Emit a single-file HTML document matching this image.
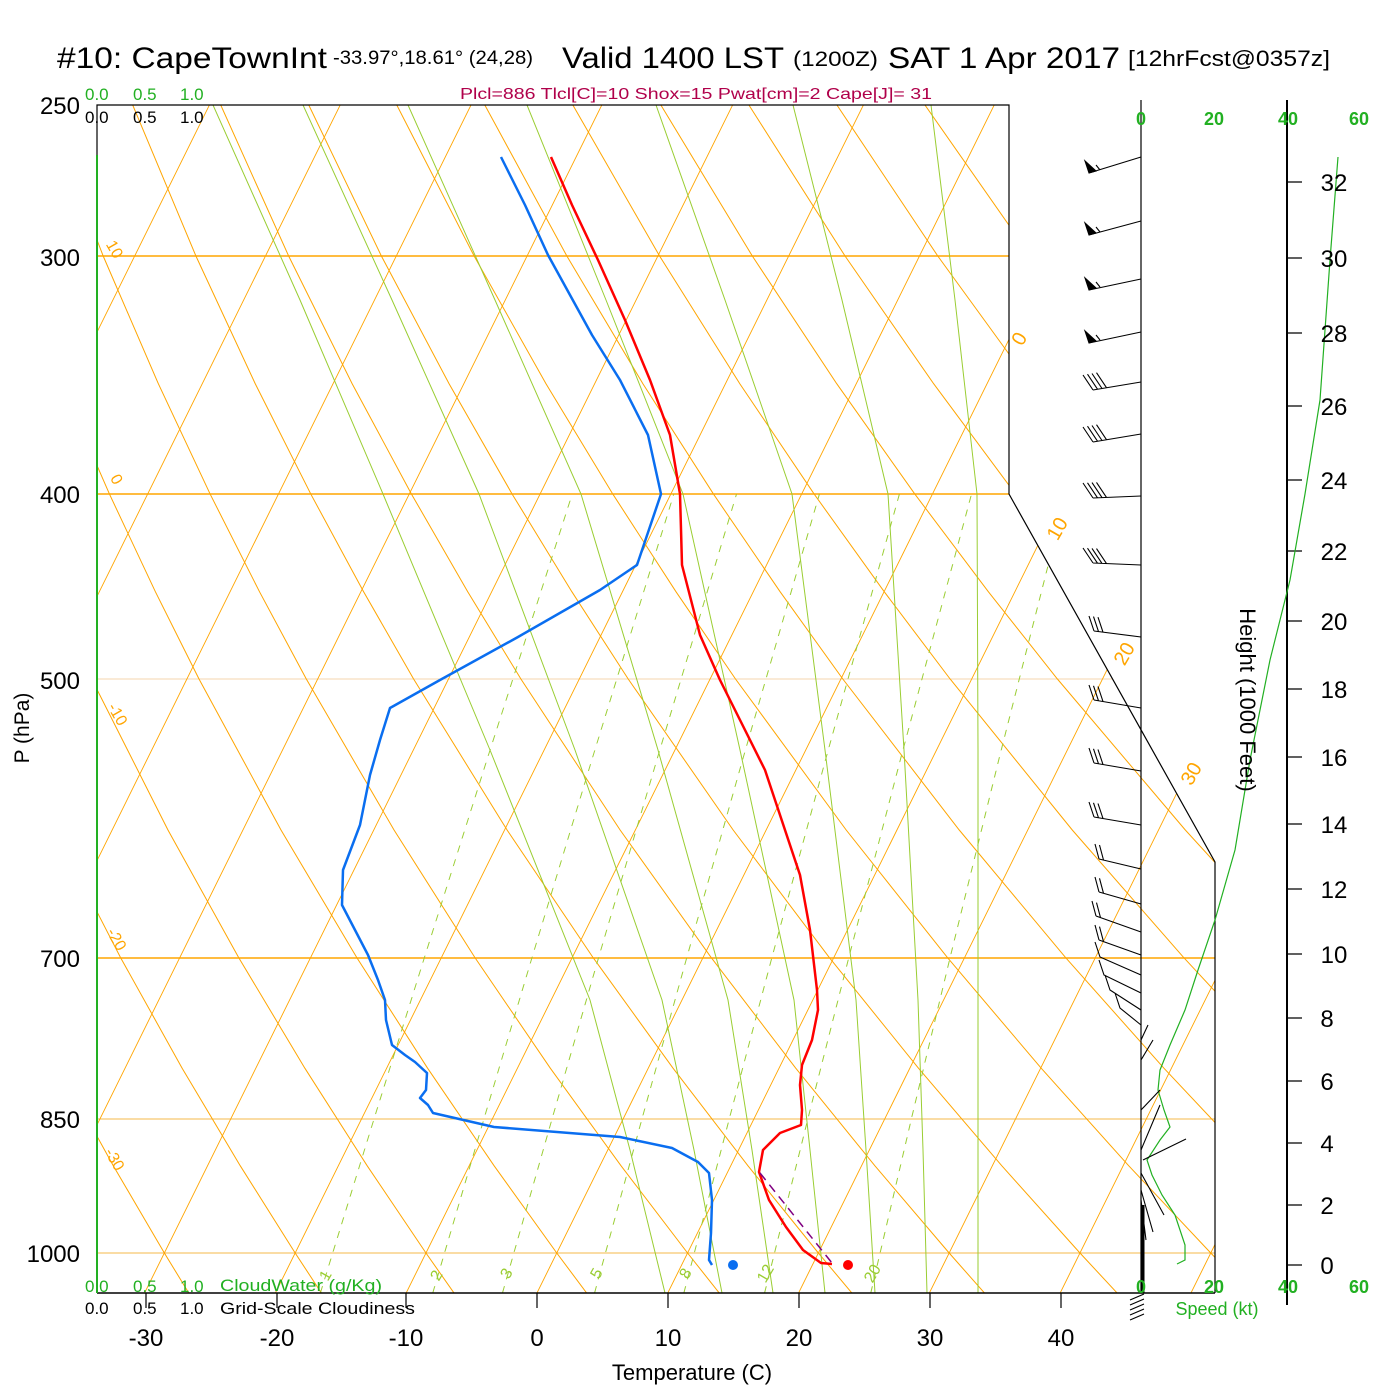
<!DOCTYPE html>
<html><head><meta charset="utf-8"><style>
html,body{margin:0;padding:0;background:#fff;}
svg{display:block;font-family:"Liberation Sans",Arial,sans-serif;}
</style></head><body>
<svg width="1400" height="1400" viewBox="0 0 1400 1400" xmlns="http://www.w3.org/2000/svg">
<defs><clipPath id="cp"><polygon points="97,105 1009,105 1009,494 1215,862 1215,1293 97,1293"/></clipPath></defs>
<rect width="1400" height="1400" fill="#fff"/>
<g clip-path="url(#cp)">
 <g stroke="#ffa500" fill="none">
  <line x1="97" y1="256" x2="1215" y2="256" stroke-width="1.5"/>
  <line x1="97" y1="494" x2="1215" y2="494" stroke-width="1.5"/>
  <line x1="97" y1="679" x2="1215" y2="679" stroke-width="0.8" stroke="#f0c890"/>
  <line x1="97" y1="958" x2="1215" y2="958" stroke-width="1.5"/>
  <line x1="97" y1="1119" x2="1215" y2="1119" stroke-width="0.9" stroke="#f5b84a"/>
  <line x1="97" y1="1253" x2="1215" y2="1253" stroke-width="0.9" stroke="#f5b84a"/>
 </g>
 <g transform="matrix(1 0 -0.495 1 640 0)" fill="none">
  <path stroke="#ffa500" stroke-width="1" d="M-509.4 105V1293M-378.6 105V1293M-247.8 105V1293M-117 105V1293M13.8 105V1293M144.6 105V1293M275.4 105V1293M406.2 105V1293M537 105V1293M667.8 105V1293M798.6 105V1293M929.4 105V1293M1060.2 105V1293M1191 105V1293"/>
  <g stroke="#ffa500" stroke-width="1">
   <path vector-effect="non-scaling-stroke" transform="translate(-3035.8,0) scale(3049.6,1)" d="M0.67298,105 L0.70896,256 0.74089,383.6 0.76969,494.2 0.79603,591.7 0.82034,679 0.86421,830 0.90311,957.6 0.93824,1068.2 0.97035,1165.7 1,1253 1.01404,1293.4"/>
   <path vector-effect="non-scaling-stroke" transform="translate(-3035.8,0) scale(3180.4,1)" d="M0.67298,105 L0.70896,256 0.74089,383.6 0.76969,494.2 0.79603,591.7 0.82034,679 0.86421,830 0.90311,957.6 0.93824,1068.2 0.97035,1165.7 1,1253 1.01404,1293.4"/>
   <path vector-effect="non-scaling-stroke" transform="translate(-3035.8,0) scale(3311.2,1)" d="M0.67298,105 L0.70896,256 0.74089,383.6 0.76969,494.2 0.79603,591.7 0.82034,679 0.86421,830 0.90311,957.6 0.93824,1068.2 0.97035,1165.7 1,1253 1.01404,1293.4"/>
   <path vector-effect="non-scaling-stroke" transform="translate(-3035.8,0) scale(3442.0,1)" d="M0.67298,105 L0.70896,256 0.74089,383.6 0.76969,494.2 0.79603,591.7 0.82034,679 0.86421,830 0.90311,957.6 0.93824,1068.2 0.97035,1165.7 1,1253 1.01404,1293.4"/>
   <path vector-effect="non-scaling-stroke" transform="translate(-3035.8,0) scale(3572.8,1)" d="M0.67298,105 L0.70896,256 0.74089,383.6 0.76969,494.2 0.79603,591.7 0.82034,679 0.86421,830 0.90311,957.6 0.93824,1068.2 0.97035,1165.7 1,1253 1.01404,1293.4"/>
   <path vector-effect="non-scaling-stroke" transform="translate(-3035.8,0) scale(3703.6,1)" d="M0.67298,105 L0.70896,256 0.74089,383.6 0.76969,494.2 0.79603,591.7 0.82034,679 0.86421,830 0.90311,957.6 0.93824,1068.2 0.97035,1165.7 1,1253 1.01404,1293.4"/>
   <path vector-effect="non-scaling-stroke" transform="translate(-3035.8,0) scale(3834.4,1)" d="M0.67298,105 L0.70896,256 0.74089,383.6 0.76969,494.2 0.79603,591.7 0.82034,679 0.86421,830 0.90311,957.6 0.93824,1068.2 0.97035,1165.7 1,1253 1.01404,1293.4"/>
   <path vector-effect="non-scaling-stroke" transform="translate(-3035.8,0) scale(3965.2,1)" d="M0.67298,105 L0.70896,256 0.74089,383.6 0.76969,494.2 0.79603,591.7 0.82034,679 0.86421,830 0.90311,957.6 0.93824,1068.2 0.97035,1165.7 1,1253 1.01404,1293.4"/>
   <path vector-effect="non-scaling-stroke" transform="translate(-3035.8,0) scale(4096.0,1)" d="M0.67298,105 L0.70896,256 0.74089,383.6 0.76969,494.2 0.79603,591.7 0.82034,679 0.86421,830 0.90311,957.6 0.93824,1068.2 0.97035,1165.7 1,1253 1.01404,1293.4"/>
   <path vector-effect="non-scaling-stroke" transform="translate(-3035.8,0) scale(4226.8,1)" d="M0.67298,105 L0.70896,256 0.74089,383.6 0.76969,494.2 0.79603,591.7 0.82034,679 0.86421,830 0.90311,957.6 0.93824,1068.2 0.97035,1165.7 1,1253 1.01404,1293.4"/>
   <path vector-effect="non-scaling-stroke" transform="translate(-3035.8,0) scale(4357.6,1)" d="M0.67298,105 L0.70896,256 0.74089,383.6 0.76969,494.2 0.79603,591.7 0.82034,679 0.86421,830 0.90311,957.6 0.93824,1068.2 0.97035,1165.7 1,1253 1.01404,1293.4"/>
   <path vector-effect="non-scaling-stroke" transform="translate(-3035.8,0) scale(4488.4,1)" d="M0.67298,105 L0.70896,256 0.74089,383.6 0.76969,494.2 0.79603,591.7 0.82034,679 0.86421,830 0.90311,957.6 0.93824,1068.2 0.97035,1165.7 1,1253 1.01404,1293.4"/>
   <path vector-effect="non-scaling-stroke" transform="translate(-3035.8,0) scale(4619.2,1)" d="M0.67298,105 L0.70896,256 0.74089,383.6 0.76969,494.2 0.79603,591.7 0.82034,679 0.86421,830 0.90311,957.6 0.93824,1068.2 0.97035,1165.7 1,1253 1.01404,1293.4"/>
   <path vector-effect="non-scaling-stroke" transform="translate(-3035.8,0) scale(4750.0,1)" d="M0.67298,105 L0.70896,256 0.74089,383.6 0.76969,494.2 0.79603,591.7 0.82034,679 0.86421,830 0.90311,957.6 0.93824,1068.2 0.97035,1165.7 1,1253 1.01404,1293.4"/>
   <path vector-effect="non-scaling-stroke" transform="translate(-3035.8,0) scale(4880.8,1)" d="M0.67298,105 L0.70896,256 0.74089,383.6 0.76969,494.2 0.79603,591.7 0.82034,679 0.86421,830 0.90311,957.6 0.93824,1068.2 0.97035,1165.7 1,1253 1.01404,1293.4"/>
   <path vector-effect="non-scaling-stroke" transform="translate(-3035.8,0) scale(5011.6,1)" d="M0.67298,105 L0.70896,256 0.74089,383.6 0.76969,494.2 0.79603,591.7 0.82034,679 0.86421,830 0.90311,957.6 0.93824,1068.2 0.97035,1165.7 1,1253 1.01404,1293.4"/>
   <path vector-effect="non-scaling-stroke" transform="translate(-3035.8,0) scale(5142.4,1)" d="M0.67298,105 L0.70896,256 0.74089,383.6 0.76969,494.2 0.79603,591.7 0.82034,679 0.86421,830 0.90311,957.6 0.93824,1068.2 0.97035,1165.7 1,1253 1.01404,1293.4"/>
   <path vector-effect="non-scaling-stroke" transform="translate(-3035.8,0) scale(5273.2,1)" d="M0.67298,105 L0.70896,256 0.74089,383.6 0.76969,494.2 0.79603,591.7 0.82034,679 0.86421,830 0.90311,957.6 0.93824,1068.2 0.97035,1165.7 1,1253 1.01404,1293.4"/>
  </g>
  <g stroke="#9acd32" stroke-width="1" stroke-dasharray="7,7">
   <polyline points="320.4,1293 287.8,1118.4 258.4,957.6 222.7,757.9 176.8,494.2"/>
   <polyline points="432.8,1293 397.7,1118.4 366.0,957.6 327.6,757.9 278.4,494.2"/>
   <polyline points="502.5,1293 465.8,1118.4 432.6,957.6 392.6,757.9 341.1,494.2"/>
   <polyline points="594.6,1293 555.7,1118.4 520.8,957.6 478.3,757.9 424.0,494.2"/>
   <polyline points="683.9,1293 643.0,1118.4 605.9,957.6 561.2,757.9 504.0,494.2"/>
   <polyline points="764.6,1293 721.6,1118.4 682.8,957.6 636.0,757.9 576.1,494.2"/>
   <polyline points="870.8,1293 825.1,1118.4 784.1,957.6 734.4,757.9 670.8,494.2"/>
  </g>
 </g>
 <g stroke="#9acd32" stroke-width="1" fill="none">
  <polyline points="665,1293 630,1150 590,1000 490,750 383,494 300,300 213,105"/>
  <polyline points="722,1293 694,1150 662,1000 575,750 479,494 392,300 303,105"/>
  <polyline points="773,1293 752,1150 728,1000 658,750 581,494 495,300 408,105"/>
  <polyline points="825,1293 810,1150 794,1000 740,750 683,494 606,300 527,105"/>
  <polyline points="875,1293 866,1150 856,1000 825,750 792,494 725,300 656,105"/>
  <polyline points="927,1293 923,1150 918,1000 904,750 888,494 842,300 793,105"/>
  <polyline points="978,1293 978,1150 978,1000 978,750 977,494 955,300 931,105"/>
 </g>
</g>
<g stroke="#000" stroke-width="1.2" fill="none">
<polyline points="97,155 97,105 1009,105 1009,494 1215,862 1215,1293"/>
<line x1="97" y1="1293" x2="1215" y2="1293" stroke-width="1.5"/>
<line x1="1141" y1="100" x2="1141" y2="1293"/>
<line x1="1287" y1="100" x2="1287" y2="1305" stroke-width="2"/>
</g>
<line x1="97" y1="155" x2="97" y2="1293" stroke="#22b022" stroke-width="2"/>
<g stroke="#000" stroke-width="1.2">
<line x1="146" y1="1293" x2="146" y2="1308"/><line x1="277" y1="1293" x2="277" y2="1308"/>
<line x1="406" y1="1293" x2="406" y2="1308"/><line x1="537" y1="1293" x2="537" y2="1308"/>
<line x1="668" y1="1293" x2="668" y2="1308"/><line x1="799" y1="1293" x2="799" y2="1308"/>
<line x1="930" y1="1293" x2="930" y2="1308"/><line x1="1061" y1="1293" x2="1061" y2="1308"/>
</g>
<path stroke="#000" stroke-width="1.2" d="M1287 182H1302M1287 258H1302M1287 333H1302M1287 406H1302M1287 480H1302M1287 551H1302M1287 621H1302M1287 689H1302M1287 757H1302M1287 824H1302M1287 889H1302M1287 954H1302M1287 1018H1302M1287 1081H1302M1287 1143H1302M1287 1205H1302M1287 1265H1302"/>
<polyline fill="none" stroke="#ff0000" stroke-width="2.5" stroke-linejoin="round" points="551,157 572,205 598,260 625,320 650,380 670,435 680,494 682,565 700,635 720,680 740,720 765,770 785,830 800,875 810,930 817,990 818,1010 812,1040 802,1065 800,1085 802,1110 801,1125 780,1133 763,1150 759,1172 769,1200 786,1227 803,1250 821,1263 832,1264"/>
<polyline fill="none" stroke="#800080" stroke-width="1.5" stroke-dasharray="9,6" points="760,1173 832,1263"/>
<polyline fill="none" stroke="#0a6ef0" stroke-width="2.5" stroke-linejoin="round" points="501,157 525,205 548,255 570,295 592,335 620,380 648,435 661,494 637,565 600,590 518,637 440,680 390,708 380,740 370,775 360,825 343,870 342,905 355,930 368,955 378,980 385,1000 386,1020 392,1045 405,1055 415,1062 427,1073 426,1090 420,1098 428,1105 433,1113 494,1127 620,1137 672,1148 698,1162 709,1173 712,1200 711,1233 709,1260 712,1265"/>
<circle cx="733" cy="1265" r="5" fill="#0a6ef0"/>
<circle cx="848" cy="1265" r="5" fill="#ff0000"/>
<polyline fill="none" stroke="#22b022" stroke-width="1.2" points="1338,157 1330,260 1320,400 1305,494 1290,580 1270,660 1250,760 1235,850 1215,920 1198,970 1185,1010 1170,1045 1160,1070 1158,1090 1164,1110 1170,1127 1160,1140 1147,1160 1152,1175 1162,1195 1175,1215 1185,1245 1185,1260 1177,1264"/>
<g stroke="#000" stroke-width="1.1" fill="#000">
<path fill="none" d="M1141 157L1089 173M1100 170L1096 165M1141 221L1089 235M1100 232L1096 227M1141 279L1089 290M1100 287L1096 282M1141 332L1089 343M1100 340L1096 335"/>
<polygon points="1089,173 1085,161 1096,171"/><polygon points="1089,235 1085,223 1096,233"/>
<polygon points="1089,290 1085,278 1096,288"/><polygon points="1089,343 1085,331 1096,341"/>
<path fill="none" d="M1141 382L1093 390M1093 390l-10 -15M1097.5 389.2l-10 -15M1102 388.5l-10 -15M1106.5 387.7l-10 -15
M1141 434L1093 442M1093 442l-10 -15M1097.5 441.2l-10 -15M1102 440.5l-10 -15M1106.5 439.7l-10 -15
M1141 496L1093 498M1093 498l-10 -15M1097.5 497.8l-10 -15M1102 497.6l-10 -15M1106.5 497.4l-10 -15
M1141 565L1093 563M1093 563l-10 -15M1097.5 563.2l-10 -15M1102 563.4l-10 -15M1106.5 563.6l-10 -15
M1141 637L1094 631M1094 631l-5 -15M1098.5 631.6l-5 -15M1103 632.2l-5 -15
M1141 708L1094 700M1094 700l-5 -15M1098.5 700.8l-5 -15M1103 701.5l-5 -15
M1141 771L1094 763M1094 763l-5 -15M1098.5 763.8l-5 -15M1103 764.5l-5 -15
M1141 825L1094 817M1094 817l-5 -15M1098.5 817.8l-5 -15M1103 818.5l-5 -15
M1141 869L1099 859M1099 859l-4 -15M1103.5 860l-4 -15
M1141 904L1099 892M1099 892l-4 -15M1103.5 893.3l-4 -15
M1141 932L1096 916M1096 916l-4 -15M1100.5 917.6l-4 -15
M1141 955L1099 940M1099 940l-4 -15M1103.5 941.6l-4 -15
M1141 975L1100 957l-5 -15M1141 993L1104 975l-5 -15M1141 1010L1110 990l-5 -15M1141 1025L1120 1008l-5 -15
M1141 1040L1148 1025M1141 1060L1153 1040M1141 1110L1160 1090M1143 1160L1186 1139M1141 1150L1160 1105M1141 1173L1164 1215M1141 1190L1153 1232M1141 1200L1146 1240
M1130 1300L1144 1294M1130 1305L1144 1299M1130 1310L1144 1304M1130 1315L1144 1309M1130 1320L1144 1314"/>
<line x1="1143" y1="1205" x2="1143" y2="1293" stroke-width="3"/>
</g>
<g fill="#000">
<text x="57" y="68" font-size="30" textLength="270" lengthAdjust="spacingAndGlyphs">#10: CapeTownInt</text>
<text x="333" y="64" font-size="19" textLength="200" lengthAdjust="spacingAndGlyphs">-33.97°,18.61° (24,28)</text>
<text x="562" y="68" font-size="30" textLength="222" lengthAdjust="spacingAndGlyphs">Valid 1400 LST</text>
<text x="793" y="66" font-size="21" textLength="85" lengthAdjust="spacingAndGlyphs">(1200Z)</text>
<text x="888" y="68" font-size="30" textLength="232" lengthAdjust="spacingAndGlyphs">SAT 1 Apr 2017</text>
<text x="1128" y="66" font-size="22" textLength="202" lengthAdjust="spacingAndGlyphs">[12hrFcst@0357z]</text>
</g>
<text x="460" y="99" font-size="16" fill="#b0004a" textLength="472" lengthAdjust="spacingAndGlyphs">Plcl=886 Tlcl[C]=10 Shox=15 Pwat[cm]=2 Cape[J]= 31</text>
<g font-size="17" fill="#22b022"><text x="85" y="100">0.0</text><text x="133" y="100">0.5</text><text x="180" y="100">1.0</text></g>
<g font-size="17" fill="#000"><text x="85" y="123">0.0</text><text x="133" y="123">0.5</text><text x="180" y="123">1.0</text></g>
<g font-size="17" fill="#22b022"><text x="85" y="1292">0.0</text><text x="133" y="1292">0.5</text><text x="180" y="1292">1.0</text><text x="220" y="1291" textLength="162" lengthAdjust="spacingAndGlyphs">CloudWater (g/Kg)</text></g>
<g font-size="17" fill="#000"><text x="85" y="1314">0.0</text><text x="133" y="1314">0.5</text><text x="180" y="1314">1.0</text><text x="220" y="1314" textLength="195" lengthAdjust="spacingAndGlyphs">Grid-Scale Cloudiness</text></g>
<g font-size="24" fill="#000" text-anchor="end">
<text x="80" y="114">250</text><text x="80" y="266">300</text><text x="80" y="503">400</text><text x="80" y="689">500</text><text x="80" y="967">700</text><text x="80" y="1128">850</text><text x="80" y="1262">1000</text>
</g>
<text transform="translate(29,728) rotate(-90)" font-size="21" text-anchor="middle">P (hPa)</text>
<g font-size="24" fill="#000" text-anchor="middle">
<text x="146" y="1346">-30</text><text x="277" y="1346">-20</text><text x="406" y="1346">-10</text><text x="537" y="1346">0</text><text x="668" y="1346">10</text><text x="799" y="1346">20</text><text x="930" y="1346">30</text><text x="1061" y="1346">40</text>
</g>
<text x="692" y="1380" font-size="22" text-anchor="middle">Temperature (C)</text>
<text transform="translate(1240,700) rotate(90)" font-size="22" text-anchor="middle">Height (1000 Feet)</text>
<g font-size="18" font-weight="bold" fill="#22b022" text-anchor="middle">
<text x="1141" y="125">0</text><text x="1214" y="125">20</text><text x="1288" y="125">40</text><text x="1359" y="125">60</text>
<text x="1141" y="1293">0</text><text x="1214" y="1293">20</text><text x="1288" y="1293">40</text><text x="1359" y="1293">60</text>
</g>
<text x="1217" y="1315" font-size="18" fill="#22b022" text-anchor="middle">Speed (kt)</text>
<g font-size="24" fill="#000" text-anchor="middle">
<text x="1334" y="191">32</text><text x="1334" y="267">30</text><text x="1334" y="342">28</text><text x="1334" y="415">26</text><text x="1334" y="489">24</text><text x="1334" y="560">22</text><text x="1334" y="630">20</text><text x="1334" y="698">18</text><text x="1334" y="766">16</text><text x="1334" y="833">14</text><text x="1334" y="898">12</text><text x="1334" y="963">10</text><text x="1327" y="1027">8</text><text x="1327" y="1090">6</text><text x="1327" y="1152">4</text><text x="1327" y="1214">2</text><text x="1327" y="1274">0</text>
</g>
<g font-size="20" fill="#ffa500" text-anchor="middle">
<text transform="translate(1025,342) rotate(-60)">0</text>
<text transform="translate(1063,532) rotate(-60)">10</text>
<text transform="translate(1130,657) rotate(-60)">20</text>
<text transform="translate(1197,777) rotate(-60)">30</text>
</g>
<g font-size="16" fill="#ffa500" text-anchor="middle">
<text transform="translate(110,252) rotate(60)">10</text>
<text transform="translate(112,482) rotate(60)">0</text>
<text transform="translate(113,717) rotate(60)">-10</text>
<text transform="translate(112,942) rotate(60)">-20</text>
<text transform="translate(110,1162) rotate(60)">-30</text>
</g>
<g font-size="16" fill="#9acd32" text-anchor="middle">
<text transform="translate(330,1278) rotate(-60)">1</text>
<text transform="translate(441,1278) rotate(-60)">2</text>
<text transform="translate(511,1276) rotate(-60)">3</text>
<text transform="translate(601,1276) rotate(-60)">5</text>
<text transform="translate(690,1276) rotate(-60)">8</text>
<text transform="translate(770,1276) rotate(-60)">12</text>
<text transform="translate(877,1276) rotate(-60)">20</text>
</g>
</svg>
</body></html>
